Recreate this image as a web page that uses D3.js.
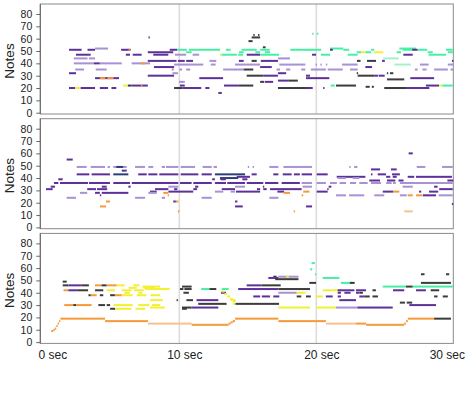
<!DOCTYPE html>
<html>
<head>
<meta charset="utf-8">
<script src="https://cdn.jsdelivr.net/npm/d3@7"></script>
<style>
  body { margin: 0; background: #fff; }
  text { font-family: "Liberation Sans", Arial, Helvetica, sans-serif; }
</style>
</head>
<body>
<div id="chart"></div>
<script>
/* Piano roll of notes, three stacked tracks */

// note = [start sec, end sec, pitch, colour key]
const colorKeys = ["p", "l", "n", "g", "G", "y", "o", "O", "k"];
const colorValues = ["#5e309a", "#a891d4", "#2d3f78", "#45f0a5", "#a6efcb", "#f2f032", "#f59a3a", "#f8c28e", "#3c3c3c"];

const yTicks = [0, 10, 20, 30, 40, 50, 60, 70, 80];
const xTicks = [0, 10, 20, 30];
const xTickLabels = ["0 sec", "10 sec", "20 sec", "30 sec"];
const yTitle = "Notes";

const notesTop = [
  [1.95,2.87,51,"p"],[3.3,3.85,51,"p"],[3.85,4.8,52,"l"],[5.75,6.45,51,"p"],[6.3,6.4,51,"o"],
  [7.7,9.56,49,"p"],[2.46,3.53,47,"p"],[6.1,6.4,47,"p"],[6.6,7.25,47,"p"],[8.1,9.2,47,"p"],
  [2.3,3.3,44,"l"],[3.4,3.85,44,"l"],
  [7.7,9.8,42,"p"],[9.9,10.4,42,"p"],[10.5,11.0,42,"p"],[12.2,12.7,42,"l"],[14.35,14.7,42,"p"],[15.28,15.65,42,"k"],[15.95,17.2,42,"p"],
  [2.3,3.77,40,"l"],[3.77,4.2,40,"p"],[4.2,5.8,40,"l"],[6.52,7.86,40,"l"],[7.2,7.5,40,"o"],
  [9.62,11.75,39,"l"],[12.3,12.65,39,"l"],[14.07,15.9,39,"l"],[17.3,19.2,39,"l"],
  [8.15,9.62,37,"p"],[15.9,16.75,37,"p"],
  [2.4,3.05,35,"l"],[3.9,4.7,35,"l"],[9.45,9.6,35,"l"],[10.0,10.2,35,"l"],[10.5,10.8,35,"l"],[13.2,14.7,35,"l"],[14.7,15.4,35,"k"],[17.1,17.35,35,"l"],[17.8,18.1,35,"l"],[18.9,19.2,35,"l"],
  [1.95,2.46,32,"p"],[9.5,9.9,32,"l"],[17.2,17.8,32,"p"],
  [7.7,9.62,30,"p"],[14.92,16.13,30,"k"],[16.13,17.2,30,"p"],[19.25,19.54,30,"p"],
  [3.85,5.6,28,"p"],[4.2,4.6,28,"o"],[4.75,5.2,28,"o"],[11.46,13.2,28,"p"],
  [17.2,17.95,26,"p"],[17.95,18.65,26,"k"],
  [9.98,10.4,25,"l"],[15.9,16.2,25,"k"],[16.25,16.85,25,"p"],
  [5.9,6.25,22,"y"],[6.25,6.5,22,"k"],[6.5,7.7,22,"p"],[7.2,7.3,22,"o"],[10.05,10.4,22,"p"],[13.26,14.3,22,"p"],[14.3,15.4,22,"k"],
  [1.95,2.4,20,"p"],[2.4,2.8,20,"y"],[2.8,3.85,20,"p"],[4.2,4.8,20,"p"],[5.05,5.4,20,"p"],[9.62,10.25,20,"k"],[10.25,11.6,20,"p"],[11.9,12.2,20,"p"],[17.2,19.54,20,"k"],
  [12.85,13.1,16,"p"],
  [7.75,7.85,61,"p"],[15.4,15.5,63,"k"],[15.75,15.85,63,"k"],[15.28,15.9,61,"k"],[15.05,15.35,58,"k"],[16.1,16.3,53,"k"],
  [9.3,9.85,51,"p"],[9.85,10.55,51,"g"],[10.7,12.97,51,"g"],[13.4,13.75,51,"g"],[14.55,15.65,51,"g"],[15.9,16.6,51,"g"],[18.1,19.3,51,"g"],
  [10.5,10.9,49,"g"],[14.35,14.7,49,"g"],[15.55,15.9,49,"g"],[16.25,16.62,49,"g"],
  [9.68,10.5,47,"l"],[10.97,11.45,47,"l"],[12.97,13.1,47,"y"],[13.1,14.2,47,"g"],[14.3,14.65,47,"g"],[14.92,15.9,47,"p"],[15.9,17.28,47,"g"],
  [17.2,18.08,44,"l"],
  [19.7,19.8,64,"g"],[20.05,20.15,64,"g"],
  [21.0,21.97,52,"g"],[26.06,27.28,52,"g"],
  [19.25,20.35,51,"g"],[21.0,21.2,51,"p"],[21.97,22.4,51,"g"],[24.0,24.23,51,"g"],[26.3,27.0,51,"g"],[27.0,27.4,51,"p"],[27.4,28.1,51,"g"],[29.47,29.96,51,"g"],
  [22.95,23.26,49,"g"],[23.26,23.6,49,"y"],[23.6,24.0,49,"g"],[24.23,24.89,49,"y"],[25.87,26.18,49,"g"],[28.13,28.5,49,"g"],[29.6,29.96,49,"g"],
  [19.69,19.98,47,"p"],[20.34,21.0,47,"g"],[22.29,23.02,47,"g"],[26.35,27.04,47,"p"],[28.2,29.47,47,"g"],
  [24.89,26.01,44,"G"],
  [22.97,23.23,42,"k"],[23.7,24.36,42,"k"],[24.8,25.0,42,"p"],[29.9,30,42,"p"],
  [19.95,20.05,39,"l"],[20.3,20.4,39,"l"],[20.7,20.8,39,"l"],[21.88,23.02,39,"l"],[25.7,26.9,39,"G"],[27.57,28.2,39,"l"],[29.6,30,39,"l"],
  [23.58,24.07,37,"p"],
  [19.6,20.7,35,"l"],[20.83,21.93,35,"l"],[22.46,23.02,35,"l"],[27.2,27.4,35,"l"],[27.75,28.05,35,"l"],[28.6,29.6,35,"l"],[29.8,30,35,"l"],
  [22.95,23.05,32,"k"],[25.15,25.25,32,"k"],[25.38,25.62,32,"k"],
  [23.02,24.23,30,"k"],[24.23,24.5,30,"p"],[24.55,24.99,30,"p"],
  [19.25,20.95,28,"p"],[26.86,28.6,28,"p"],
  [25.16,26.42,27,"k"],
  [21.05,21.35,22,"g"],[21.44,22.9,22,"k"],[28.0,28.97,22,"p"],[28.97,29.2,22,"y"],[29.2,29.96,22,"g"],
  [23.6,23.9,21,"k"],[24.05,24.2,21,"k"],
  [19.25,19.74,20,"p"],[20.5,20.6,20,"p"],[24.96,26.55,20,"k"],[26.55,28.25,20,"p"]
];

const notesMiddle = [
  [1.78,2.22,55,"p"],
  [2.51,3.24,49,"l"],[3.53,4.58,49,"l"],[4.77,4.94,49,"l"],[5.18,6.16,49,"l"],[5.4,5.9,49,"n"],[6.77,7.5,49,"l"],[7.74,8.1,49,"l"],[8.72,8.96,49,"l"],[9.03,9.93,49,"l"],[10.1,11.15,49,"l"],[11.7,12.37,49,"l"],[12.5,12.75,49,"l"],[15.0,15.1,49,"l"],[15.35,15.45,49,"l"],[16.57,17.23,49,"l"],[17.6,19.69,49,"l"],[22.4,22.5,49,"l"],[22.76,23.0,49,"l"],[27.33,27.96,49,"l"],[29.18,29.96,49,"l"],
  [5.8,6.16,46,"p"],[23.99,24.65,47,"p"],[25.45,25.87,47,"p"],
  [2.51,3.43,43,"p"],[3.6,4.94,43,"p"],[5.18,6.28,43,"n"],[7.0,7.62,43,"p"],[7.74,8.4,43,"p"],[8.54,9.93,43,"p"],[10.1,11.39,43,"p"],[11.63,12.37,43,"p"],[12.6,14.8,43,"n"],[15.28,15.65,43,"p"],[16.86,17.23,43,"p"],[17.55,18.2,43,"p"],[18.37,18.8,43,"p"],[18.93,19.69,43,"p"],[20.03,20.83,43,"p"],[23.99,24.1,43,"p"],[24.48,25.09,43,"p"],[25.53,26.1,43,"p"],
  [14.19,15.16,41,"p"],[21.49,23.58,41,"p"],[25.1,25.4,41,"p"],[25.58,25.87,41,"p"],[26.67,27.15,41,"p"],[27.28,29.9,41,"p"],
  [12.97,14.3,40,"n"],[21.56,22.17,40,"l"],[22.65,23.14,40,"l"],
  [1.17,1.49,39,"p"],[12.4,12.6,39,"p"],[13.0,13.4,39,"p"],[14.6,14.97,39,"p"],
  [23.87,24.65,38,"p"],[25.16,25.77,38,"p"],[26.0,26.37,38,"p"],[29.57,30,38,"p"],
  [0.85,1.17,36,"p"],[1.29,3.34,36,"p"],[3.41,4.94,36,"p"],[5.18,6.4,36,"p"],[6.53,9.93,36,"p"],[10.05,10.9,36,"p"],[11.02,12.37,36,"p"],[12.6,13.41,36,"p"],[13.5,14.8,36,"p"],[14.92,16.13,36,"p"],[16.26,17.23,36,"p"],[17.47,18.8,36,"p"],[18.93,19.69,36,"l"],[20.03,20.7,36,"l"],[21.0,21.5,36,"l"],[21.7,22.17,36,"l"],[22.46,22.9,36,"l"],[23.14,23.75,36,"l"],[23.99,24.72,36,"l"],[25.1,25.5,36,"l"],[25.6,25.8,36,"l"],[26.1,28.6,36,"l"],[28.6,29.96,36,"l"],
  [0.61,0.93,33,"p"],[4.34,4.7,33,"p"],[6.28,6.45,33,"p"],[9.2,9.93,33,"l"],[11.15,11.39,33,"p"],[14.07,14.8,33,"l"],[16.1,16.2,33,"p"],[19.0,19.69,33,"l"],[20.9,21.1,33,"p"],[26.3,27.04,33,"l"],[28.6,28.85,33,"p"],
  [0.27,0.76,31,"p"],[3.28,3.92,31,"p"],[3.99,4.74,31,"p"],[8.23,9.2,31,"p"],[9.62,9.86,31,"p"],[11.02,11.3,31,"p"],[13.1,14.07,31,"p"],[15.67,15.9,31,"p"],[16.13,16.38,31,"p"],[16.62,18.93,31,"p"],[20.8,20.9,31,"p"],[28.97,29.96,31,"p"],
  [7.86,8.35,29,"p"],[9.2,11.02,29,"p"],[12.6,13.21,29,"l"],[13.75,14.07,29,"l"],[14.14,15.9,29,"p"],[17.16,17.65,29,"p"],[19.05,19.5,29,"o"],[20.03,20.83,29,"p"],[24.85,25.62,29,"p"],[25.62,26.06,29,"o"],[27.5,27.66,29,"p"],[28.23,28.9,29,"p"],
  [2.75,3.28,28,"l"],[3.85,4.2,28,"p"],[4.34,6.28,28,"p"],[7.74,8.35,28,"l"],[8.83,9.2,28,"o"],[17.6,18.08,28,"o"],
  [4.2,4.3,26,"p"],[9.15,9.25,26,"o"],[18.93,19.05,26,"o"],[21.44,22.17,26,"l"],[22.4,23.5,26,"l"],[24.23,24.96,26,"l"],[26.1,26.6,26,"l"],[26.67,27.04,26,"o"],[27.28,27.72,26,"o"],[27.77,28.74,26,"p"],[28.93,29.96,26,"l"],
  [1.78,2.46,24,"l"],[6.77,7.5,24,"l"],[8.72,8.96,24,"l"],[11.63,12.37,24,"l"],[16.57,17.23,24,"l"],
  [4.65,4.94,21,"o"],[9.56,9.75,21,"p"],[9.75,9.93,21,"o"],[14.07,14.24,21,"p"],
  [29.9,30,19,"p"],
  [4.21,4.65,17,"o"],[14.07,14.63,17,"p"],[19.25,19.69,17,"p"],
  [9.9,10.0,13,"o"],[18.35,18.45,13,"o"],[26.42,27.04,13,"O"],
  [26.74,27.04,60,"p"]
];

const notesBottom = [
  [0.65,0.8,9,"o"],[0.8,0.92,10,"o"],[0.92,1.02,11,"o"],[1.02,1.12,13,"o"],[1.12,1.22,15,"o"],[1.22,1.32,17,"o"],
  [1.32,4.58,19,"o"],[4.58,7.71,17,"o"],[7.71,10.9,15,"O"],[10.9,13.6,14,"o"],[13.6,13.75,15,"o"],[13.75,13.9,16,"o"],[13.9,14.07,17,"o"],
  [14.07,17.23,19,"o"],[17.23,20.7,17,"o"],[20.7,22.9,15,"O"],[22.9,23.63,15,"o"],[23.63,26.42,14,"o"],[26.42,26.55,15,"o"],[26.55,26.68,17,"o"],[26.68,28.6,19,"o"],[28.6,29.83,19,"k"],
  [1.49,1.78,49,"k"],
  [1.49,1.9,46,"k"],[1.9,2.88,46,"p"],[2.88,3.4,46,"k"],[3.85,4.33,46,"o"],[4.33,4.7,46,"k"],[4.7,5.43,46,"o"],[5.43,6.0,46,"y"],[6.65,7.1,46,"y"],[7.3,8.6,45,"y"],
  [14.92,16.0,46,"p"],[16.0,17.4,46,"k"],
  [6.3,6.9,44,"y"],[7.4,8.2,44,"y"],[10.2,10.9,45,"k"],
  [1.55,1.9,42,"o"],[1.9,2.6,42,"p"],[2.6,3.34,42,"k"],[3.85,4.45,42,"k"],[4.7,5.3,42,"y"],[5.8,6.5,42,"y"],[6.7,7.4,42,"y"],[7.5,9.3,43,"y"],
  [10.05,10.3,43,"k"],[10.37,10.9,43,"k"],[11.6,12.2,43,"g"],[12.2,12.7,43,"k"],[13.1,13.6,43,"g"],[14.3,17.23,43,"p"],[17.23,19.54,43,"k"],
  [6.0,6.4,40,"y"],[7.0,7.3,40,"y"],[10.3,10.7,40,"k"],[13.05,13.41,40,"p"],[17.23,18.57,40,"l"],[18.57,19.2,40,"y"],
  [3.37,3.54,38,"k"],[3.54,3.97,38,"o"],[4.2,4.45,38,"k"],[4.95,5.3,38,"k"],[5.3,5.8,38,"o"],[5.8,6.6,38,"y"],[6.9,7.6,38,"y"],[7.9,8.6,38,"y"],
  [15.4,15.9,37,"p"],[16.02,16.62,37,"p"],[16.86,17.3,37,"p"],[18.57,18.9,37,"k"],[19.25,19.6,37,"k"],
  [7.86,8.8,34,"y"],[9.8,9.9,34,"k"],[10.52,11.0,34,"k"],[11.26,12.85,34,"p"],[13.75,14.1,34,"y"],
  [1.6,2.26,30,"o"],[2.26,2.46,30,"k"],[2.46,3.6,30,"o"],[4.09,4.58,30,"k"],[4.7,4.95,30,"k"],[5.2,6.6,30,"y"],[7.0,7.8,30,"y"],[8.0,8.6,30,"y"],
  [11.38,13.45,31,"k"],[13.9,14.1,31,"y"],[14.1,17.28,31,"k"],
  [4.95,5.31,27,"k"],[5.31,6.5,27,"y"],[6.8,7.5,27,"y"],[7.86,8.95,28,"y"],[10.2,10.9,28,"k"],[10.9,12.85,28,"p"],[17.23,19.54,28,"y"],[10.2,10.55,27,"k"],
  [13.1,13.3,41,"y"],[13.3,13.5,39,"y"],[13.5,13.7,37,"y"],[13.7,13.9,35,"y"],[13.9,14.1,33,"y"],
  [16.86,17.1,53,"k"],[17.23,18.7,53,"l"],[17.8,18.0,53,"y"],[16.5,17.23,52,"p"],[17.0,18.7,51,"k"],
  [19.65,19.9,64,"g"],[19.55,19.7,59,"g"],[19.9,20.0,55,"g"],[20.47,21.68,52,"g"],
  [19.49,19.98,48,"k"],[21.8,22.66,48,"g"],[22.45,22.8,48,"k"],[27.64,29.83,48,"k"],
  [27.64,27.9,55,"k"],[29.47,29.7,55,"k"],
  [24.85,26.55,45,"g"],[26.55,27.04,45,"k"],[27.04,29.96,45,"g"],
  [20.47,21.68,42,"y"],[21.56,22.78,42,"p"],[22.9,23.63,42,"p"],[24.1,24.35,42,"k"],[25.6,26.42,42,"p"],[27.28,28.0,42,"p"],[28.35,28.97,42,"k"],
  [21.56,21.8,40,"p"],[22.05,22.5,40,"p"],[22.9,23.14,40,"p"],[23.14,23.4,40,"k"],
  [19.96,20.47,37,"y"],[20.7,21.2,37,"p"],[21.56,21.8,37,"p"],[23.14,23.5,37,"p"],[23.5,23.9,37,"k"],[24.1,24.5,37,"k"],[28.6,28.85,37,"k"],[29.23,29.6,37,"k"],
  [21.68,22.9,34,"p"],
  [26.1,26.47,32,"k"],[26.6,27.0,32,"k"],
  [26.79,28.74,30,"p"],
  [19.98,21.44,28,"y"],[21.44,23.0,28,"l"],[23.0,25.58,28,"p"]
];

const width = 466,
      height = 393,
      panelHeight = 110,
      panelTops = [4, 118.7, 233.4],
      left = 40.3,
      right = 453.3;

let svg = d3.select("#chart")
            .append("svg")
            .attr("width", width)
            .attr("height", height)
            .attr("viewBox", [0, 0, width, height]);

const x = d3.scaleLinear()
            .domain([0, 30])
            .range([42.3, right]);

const y = d3.scaleLinear()
            .domain([0, 80])
            .range([108.7, 10]);

const color = d3.scaleOrdinal()
                .domain(colorKeys)
                .range(colorValues);

const tracks = [notesTop, notesMiddle, notesBottom];

tracks.forEach((notes, i) => {
    let g = svg.append("g")
               .attr("transform", `translate(0,${panelTops[i]})`);

    // vertical grid at 10 and 20 sec
    g.selectAll(".grid")
     .data(xTicks.slice(1, 3))
     .join("line")
     .attr("x1", d => x(d))
     .attr("x2", d => x(d))
     .attr("y1", 0)
     .attr("y2", panelHeight)
     .attr("stroke", "#dcdcdc")
     .attr("stroke-width", 1.6);

    g.append("rect")
     .attr("x", left)
     .attr("y", 0)
     .attr("width", right - left)
     .attr("height", panelHeight)
     .attr("fill", "none")
     .attr("stroke", "#8a8a8a");

    g.selectAll(".note")
     .data(notes)
     .join("rect")
     .attr("x", d => x(d[0]))
     .attr("y", d => y(d[2]) - 1)
     .attr("width", d => Math.max(1, x(d[1]) - x(d[0])))
     .attr("height", 2)
     .attr("fill", d => color(d[3]));

    const yAxis = g.append("g")
        .attr("transform", `translate(${left},0)`)
        .call(d3.axisLeft(y).tickValues(yTicks).tickSize(4).tickPadding(4))
        .call(a => a.select(".domain").remove());

    yAxis.selectAll("text")
         .attr("font-size", 10.5)
         .attr("fill", "#222")
         .attr("font-family", null);
    yAxis.selectAll(".tick line").attr("stroke", "#666");

    g.append("line")
     .attr("x1", left)
     .attr("x2", left)
     .attr("y1", 0)
     .attr("y2", panelHeight)
     .attr("stroke", "#666");

    g.append("text")
     .attr("transform", `translate(14,${panelHeight / 2 + 2}) rotate(-90)`)
     .attr("text-anchor", "middle")
     .attr("font-size", 13.5)
     .attr("fill", "#222")
     .text(yTitle);

    if (i === 2) {
        const labelShift = [10, 5, 5, -6.5];
        const xAxis = g.append("g")
            .attr("transform", `translate(0,${panelHeight})`)
            .call(d3.axisBottom(x)
                    .tickValues(xTicks)
                    .tickFormat((d, j) => xTickLabels[j])
                    .tickSize(0)
                    .tickPadding(7))
            .call(a => a.select(".domain").remove());

        xAxis.selectAll("text")
             .attr("font-size", 12)
             .attr("fill", "#222")
             .attr("font-family", null)
             .attr("dx", (d, j) => labelShift[j]);
    }
});
</script>
</body>
</html>
